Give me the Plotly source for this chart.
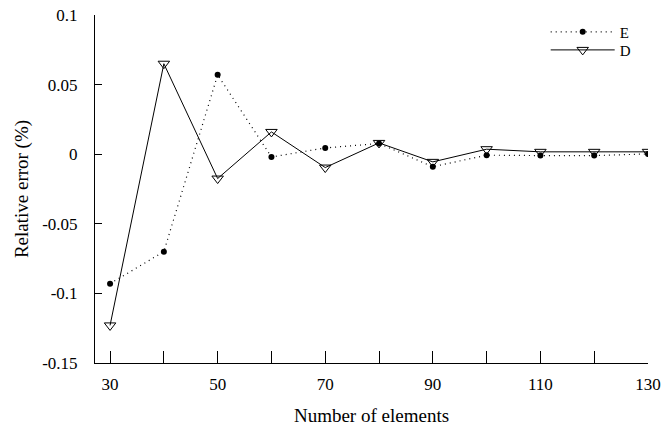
import plotly.graph_objects as go

elements = [30, 40, 50, 60, 70, 80, 90, 100, 110, 120, 130]
E_vals = [-0.093, -0.070, 0.057, -0.002, 0.0045, 0.0077, -0.009, -0.0007, -0.001, -0.001, 0.0002]
D_vals = [-0.123, 0.065, -0.0175, 0.016, -0.0096, 0.0081, -0.0055, 0.0036, 0.0017, 0.0017, 0.0017]

x_tickvals = [30, 40, 50, 60, 70, 80, 90, 100, 110, 120, 130]
x_ticktext = ["30", "", "50", "", "70", "", "90", "", "110", "", "130"]
y_tickvals = [0.1, 0.05, 0, -0.05, -0.1, -0.15]
y_ticktext = ["0.1", "0.05", "0", "-0.05", "-0.1", "-0.15"]

FONT = "Liberation Serif, Times New Roman, serif"

fig = go.Figure()
fig.add_trace(go.Scatter(
    x=elements, y=E_vals, name="E", mode="lines+markers",
    line=dict(color="black", width=1.2, dash="1px,4px"),
    marker=dict(symbol="circle", size=6, color="black"),
    legend="legend",
))
fig.add_trace(go.Scatter(
    x=elements, y=D_vals, name="D", mode="lines+markers",
    line=dict(color="black", width=1),
    marker=dict(symbol="triangle-down-open", size=10, color="black", line=dict(width=1)),
    legend="legend2",
))

leg_common = dict(x=0.815, xanchor="left", yanchor="middle",
                  bgcolor="rgba(0,0,0,0)", font=dict(size=15),
                  itemwidth=64)

fig.update_layout(
    width=664, height=426,
    margin=dict(l=95, r=16, t=15, b=63, autoexpand=False),
    paper_bgcolor="white", plot_bgcolor="white",
    font=dict(family=FONT, size=17, color="black"),
    showlegend=True,
    legend=dict(y=0.951, **leg_common),
    legend2=dict(y=0.899, **leg_common),
    xaxis=dict(
        range=[27.2, 130], showgrid=False, zeroline=False,
        showline=True, linecolor="black", linewidth=1,
        ticks="inside", ticklen=12, tickwidth=1, tickcolor="black",
        tickvals=x_tickvals, ticktext=x_ticktext, ticklabelstandoff=6,
        title=dict(text="Number of elements", font=dict(size=19), standoff=18),
    ),
    yaxis=dict(
        range=[-0.15, 0.1], showgrid=False, zeroline=False,
        showline=True, linecolor="black", linewidth=1,
        ticks="inside", ticklen=7, tickwidth=1, tickcolor="black",
        tickvals=y_tickvals, ticktext=y_ticktext, ticklabelstandoff=13,
        title=dict(text="Relative error (%)", font=dict(size=19), standoff=8),
    ),
)

# remove the browser's default 8px body margin so the figure fills the window exactly
fig.write_html(
    "out.html",
    config={"displayModeBar": False},
    post_script="document.body.style.margin='0';document.body.style.overflow='hidden';",
)
